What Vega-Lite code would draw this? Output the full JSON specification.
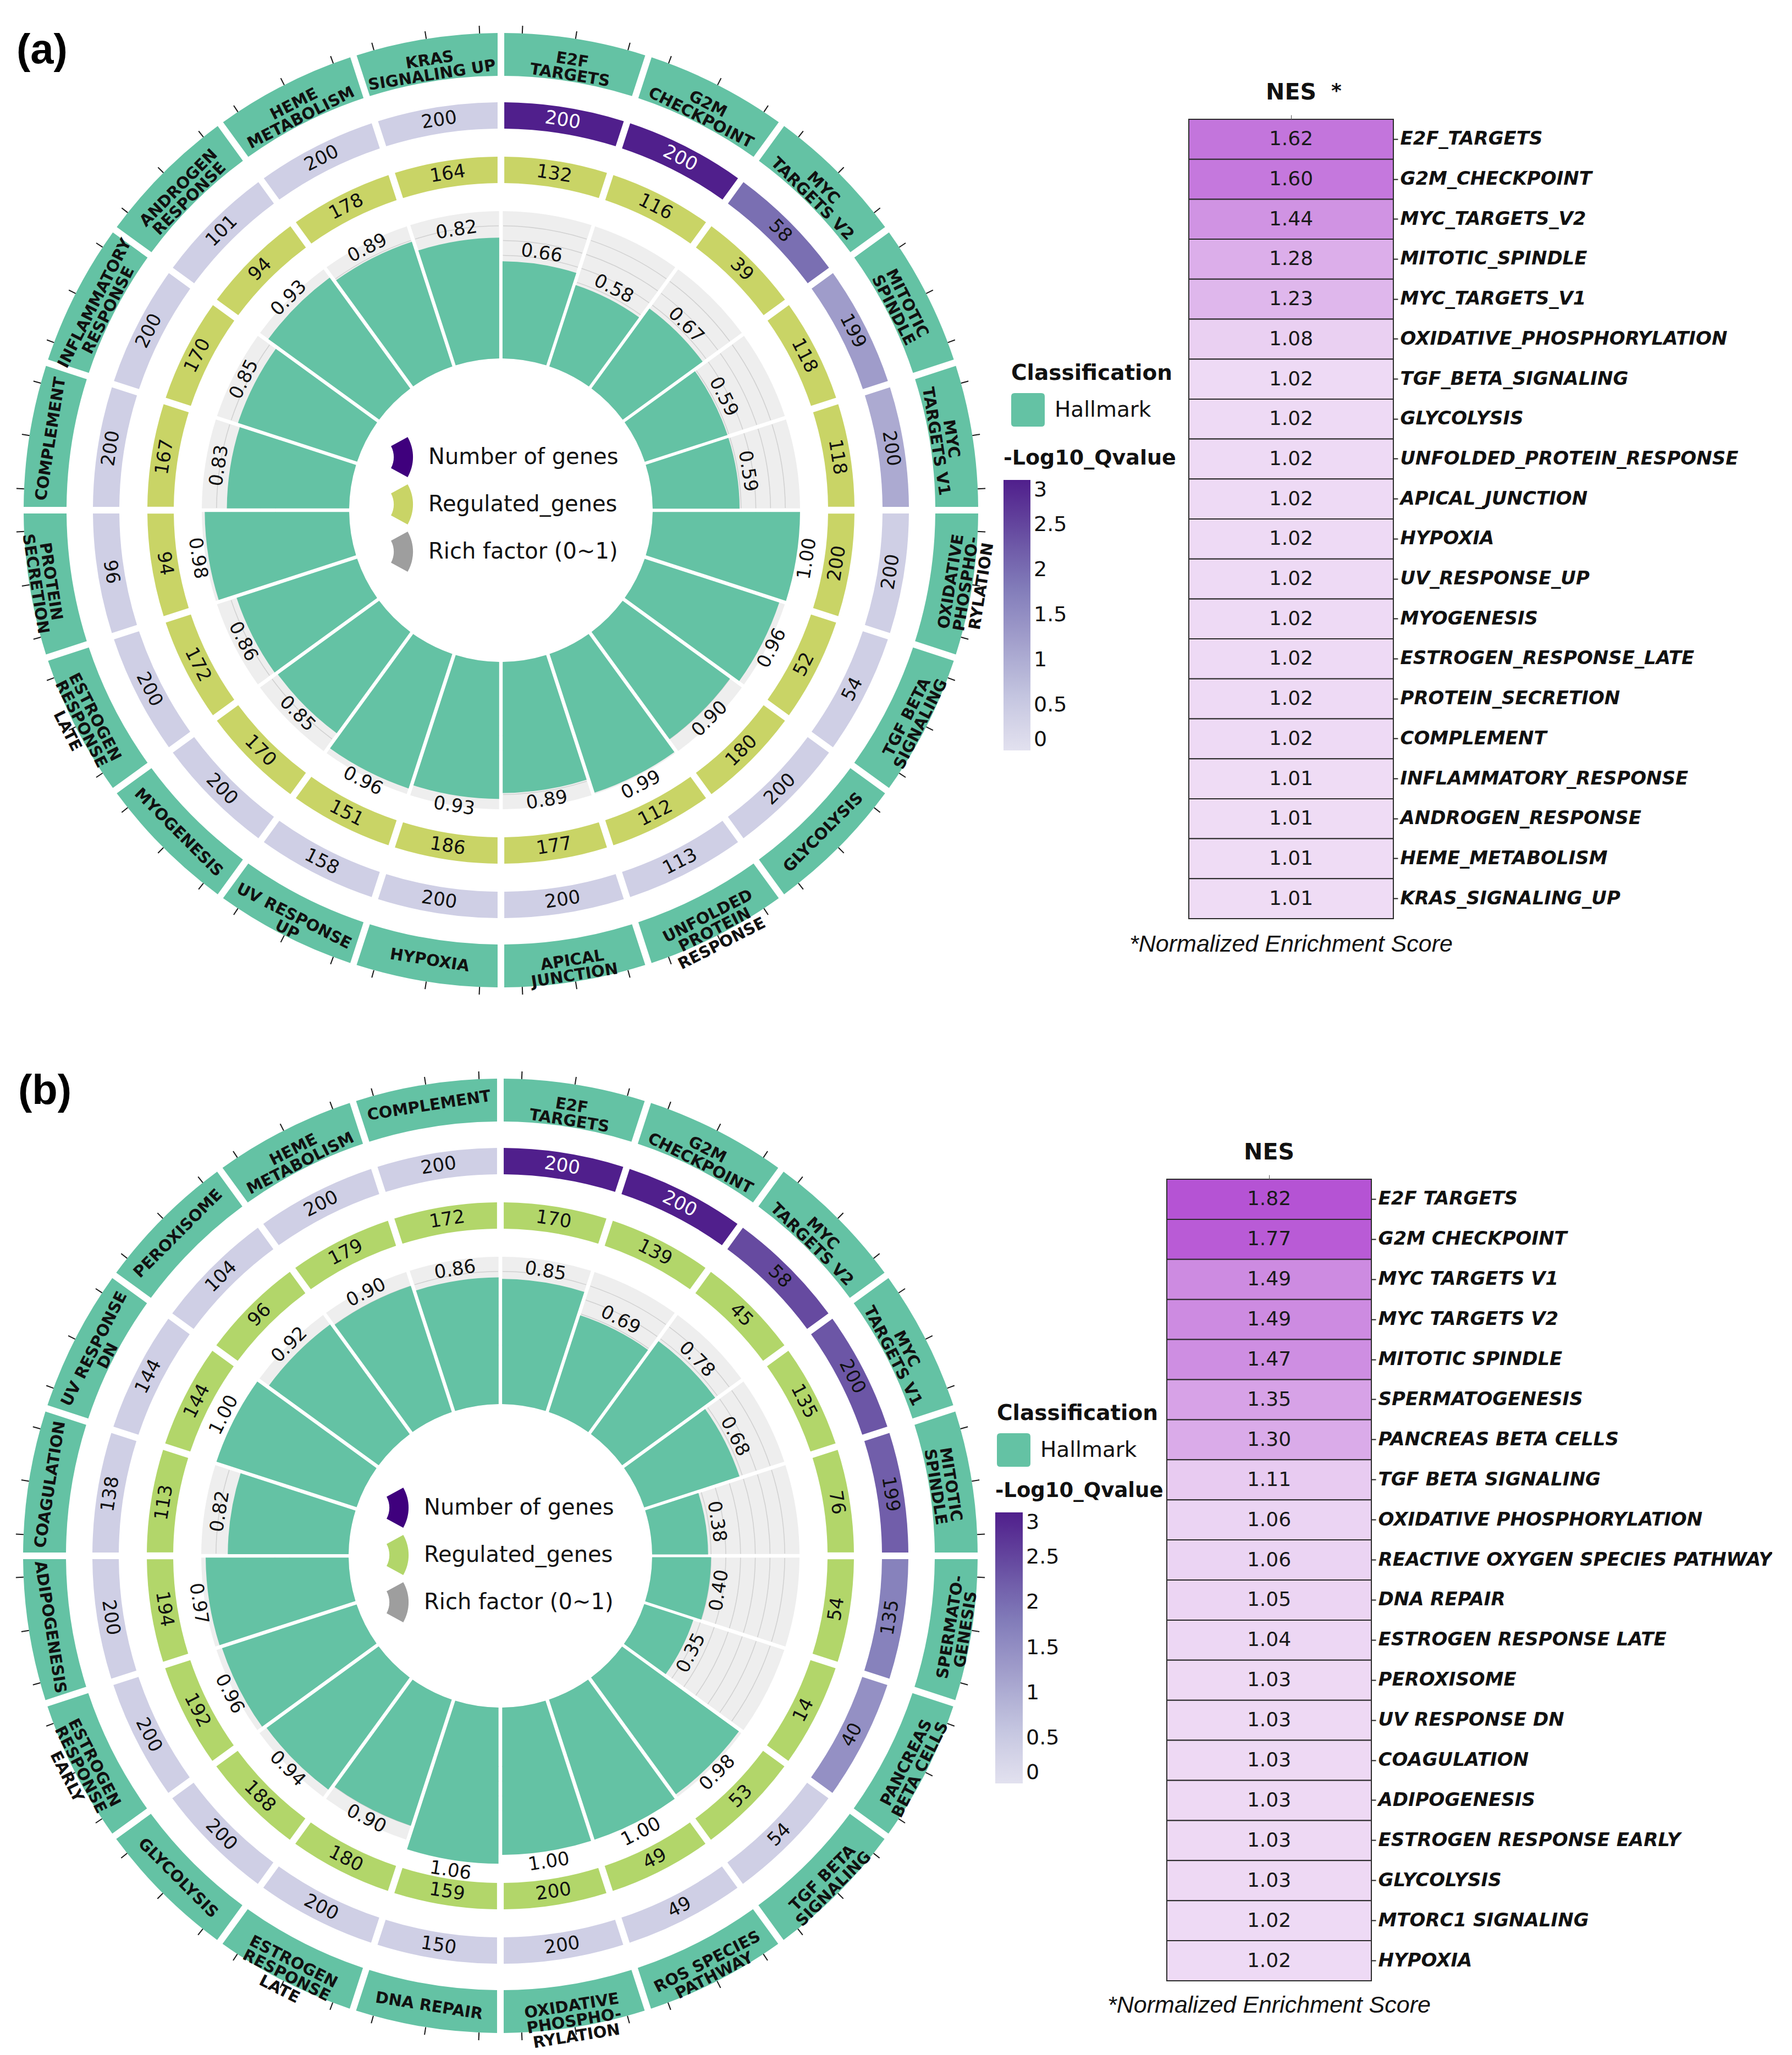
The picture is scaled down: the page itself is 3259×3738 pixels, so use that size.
{
 "$schema": "https://vega.github.io/schema/vega-lite/v6.json",
 "padding": 0,
 "background": "white",
 "config": {"view": {"stroke": null}, "font": "DejaVu Sans"},
 "spacing": 66,
 "vconcat": [
  {
   "bounds": "flush",
   "spacing": 340,
   "hconcat": [
    {
     "width": 1822, "height": 1856,
     "title": {"text": "(a)", "anchor": "start", "frame": "group", "orient": "bottom", "offset": -1801, "baseline": "top", "dx": 30, "font": "Liberation Sans", "fontSize": 76, "fontWeight": "bold", "color": "#000"},
     "data": {"values": [
      {"i":0,"name":"E2F\nTARGETS","genes":200,"reg":132,"q":3,"rf":0.66},
      {"i":1,"name":"G2M\nCHECKPOINT","genes":200,"reg":116,"q":3,"rf":0.58},
      {"i":2,"name":"MYC\nTARGETS V2","genes":58,"reg":39,"q":1.98,"rf":0.67},
      {"i":3,"name":"MITOTIC\nSPINDLE","genes":199,"reg":118,"q":1.27,"rf":0.59},
      {"i":4,"name":"MYC\nTARGETS V1","genes":200,"reg":118,"q":1.05,"rf":0.59},
      {"i":5,"name":"OXIDATIVE\nPHOSPHO-\nRYLATION","genes":200,"reg":200,"q":0.4,"rf":1.00},
      {"i":6,"name":"TGF BETA\nSIGNALING","genes":54,"reg":52,"q":0.4,"rf":0.96},
      {"i":7,"name":"GLYCOLYSIS","genes":200,"reg":180,"q":0.4,"rf":0.90},
      {"i":8,"name":"UNFOLDED\nPROTEIN\nRESPONSE","genes":113,"reg":112,"q":0.4,"rf":0.99},
      {"i":9,"name":"APICAL\nJUNCTION","genes":200,"reg":177,"q":0.4,"rf":0.89},
      {"i":10,"name":"HYPOXIA","genes":200,"reg":186,"q":0.4,"rf":0.93},
      {"i":11,"name":"UV RESPONSE\nUP","genes":158,"reg":151,"q":0.4,"rf":0.96},
      {"i":12,"name":"MYOGENESIS","genes":200,"reg":170,"q":0.4,"rf":0.85},
      {"i":13,"name":"ESTROGEN\nRESPONSE\nLATE","genes":200,"reg":172,"q":0.4,"rf":0.86},
      {"i":14,"name":"PROTEIN\nSECRETION","genes":96,"reg":94,"q":0.4,"rf":0.98},
      {"i":15,"name":"COMPLEMENT","genes":200,"reg":167,"q":0.4,"rf":0.83},
      {"i":16,"name":"INFLAMMATORY\nRESPONSE","genes":200,"reg":170,"q":0.4,"rf":0.85},
      {"i":17,"name":"ANDROGEN\nRESPONSE","genes":101,"reg":94,"q":0.4,"rf":0.93},
      {"i":18,"name":"HEME\nMETABOLISM","genes":200,"reg":178,"q":0.4,"rf":0.89},
      {"i":19,"name":"KRAS\nSIGNALING UP","genes":200,"reg":164,"q":0.4,"rf":0.82}
     ]},
     "resolve": {"scale": {"fill": "independent"}, "legend": {"fill": "independent"}},
     "layer": [
      {"mark": {"type": "arc", "radius": 868, "radius2": 790, "padAngle": 0.0103, "theta2Offset": 0.31416},
       "encoding": {
        "theta": {"field": "i", "type": "quantitative", "scale": {"domain": [0, 20]}},
        "theta2": {"field": "i"},
        "fill": {"datum": "Hallmark", "type": "nominal", "scale": {"domain": ["Hallmark"], "range": ["#64c2a4"]},
         "legend": {"title": "Classification", "orient": "none", "legendX": 1839, "legendY": 660, "padding": 0, "titleFont": "DejaVu Sans", "titleFontSize": 39, "titleFontWeight": "bold", "titleColor": "#111", "titlePadding": 16, "titleLimit": 1000, "labelFont": "DejaVu Sans", "labelFontSize": 39, "labelColor": "#111", "labelLimit": 1000, "labelOffset": 18, "symbolType": "M-0.8,-1L0.8,-1Q1,-1 1,-0.8L1,0.8Q1,1 0.8,1L-0.8,1Q-1,1 -1,0.8L-1,-0.8Q-1,-1 -0.8,-1Z", "symbolSize": 3721, "symbolStrokeWidth": 0, "symbolOpacity": 1}}
       }},
      {"mark": {"type": "arc", "radius": 882, "radius2": 868, "fill": "#1a1a1a", "thetaOffset": 0.0436, "theta2Offset": 0.0459},
       "encoding": {"theta": {"field": "i", "type": "quantitative", "scale": {"domain": [0, 20]}}, "theta2": {"field": "i"}}},
      {"mark": {"type": "arc", "radius": 882, "radius2": 868, "fill": "#1a1a1a", "thetaOffset": 0.1559, "theta2Offset": 0.1582},
       "encoding": {"theta": {"field": "i", "type": "quantitative", "scale": {"domain": [0, 20]}}, "theta2": {"field": "i"}}},
      {"mark": {"type": "arc", "radius": 882, "radius2": 868, "fill": "#1a1a1a", "thetaOffset": 0.2683, "theta2Offset": 0.2706},
       "encoding": {"theta": {"field": "i", "type": "quantitative", "scale": {"domain": [0, 20]}}, "theta2": {"field": "i"}}},
      {"mark": {"type": "arc", "radius": 742, "radius2": 694, "padAngle": 0.012, "theta2Offset": 0.31416},
       "encoding": {
        "theta": {"field": "i", "type": "quantitative", "scale": {"domain": [0, 20]}},
        "theta2": {"field": "i"},
        "fill": {"field": "q", "type": "quantitative", "scale": {"scheme": "purples", "domain": [0, 3]},
         "legend": {"title": "-Log10_Qvalue", "orient": "none", "legendX": 1825, "legendY": 815, "direction": "vertical", "padding": 0, "gradientLength": 492, "gradientThickness": 49, "gradientStrokeWidth": 0, "values": [0, 0.5, 1, 1.5, 2, 2.5, 3], "format": "~g", "labelOverlap": false, "labelFont": "DejaVu Sans", "labelFontSize": 38, "labelColor": "#111", "labelOffset": 6, "titleFont": "DejaVu Sans", "titleFontSize": 38, "titleFontWeight": "bold", "titleColor": "#111", "titlePadding": 20, "titleLimit": 1000}}
       }},
      {"mark": {"type": "arc", "radius": 643, "radius2": 595, "padAngle": 0.014, "theta2Offset": 0.31416},
       "encoding": {
        "theta": {"field": "i", "type": "quantitative", "scale": {"domain": [0, 20]}},
        "theta2": {"field": "i"},
        "fill": {"datum": "Regulated_genes", "type": "nominal", "scale": {"domain": ["Number of genes", "Regulated_genes", "Rich factor (0~1)"], "range": ["#3f007d", "#c9d466", "#9e9e9e"]},
         "legend": {"title": null, "orient": "none", "legendX": 695, "legendY": 795, "padding": 0, "symbolType": "M0.27,-1A2,2 0 0 1 0.27,1L-0.56,0.55A1.15,1.15 0 0 0 -0.56,-0.55Z", "symbolSize": 5329, "symbolStrokeWidth": 0, "symbolOpacity": 1, "labelFont": "DejaVu Sans", "labelFontSize": 40, "labelColor": "#111", "labelLimit": 1000, "labelOffset": 11, "rowPadding": 13}}
       }},
      {"mark": {"type": "arc", "radius2": 276, "fill": "#eeeeee", "padAngle": 0.011, "theta2Offset": 0.31416},
       "encoding": {
        "theta": {"field": "i", "type": "quantitative", "scale": {"domain": [0, 20]}},
        "theta2": {"field": "i"},
        "radius": {"datum": 1, "type": "quantitative", "scale": {"type": "linear", "domain": [0, 1], "range": [276, 544]}}}},
      {"mark": {"type": "arc", "filled": false, "stroke": "#d0d0d0", "strokeWidth": 1.5, "padAngle": 0.011, "theta2Offset": 0.31416},
       "encoding": {
        "theta": {"field": "i", "type": "quantitative", "scale": {"domain": [0, 20]}},
        "theta2": {"field": "i"},
        "radius": {"datum": 0.5, "type": "quantitative", "scale": {"type": "linear", "domain": [0, 1], "range": [276, 544]}},
        "radius2": {"datum": 0.5}}},
      {"mark": {"type": "arc", "filled": false, "stroke": "#d0d0d0", "strokeWidth": 1.5, "padAngle": 0.011, "theta2Offset": 0.31416},
       "encoding": {
        "theta": {"field": "i", "type": "quantitative", "scale": {"domain": [0, 20]}},
        "theta2": {"field": "i"},
        "radius": {"datum": 0.6, "type": "quantitative", "scale": {"type": "linear", "domain": [0, 1], "range": [276, 544]}},
        "radius2": {"datum": 0.6}}},
      {"mark": {"type": "arc", "filled": false, "stroke": "#d0d0d0", "strokeWidth": 1.5, "padAngle": 0.011, "theta2Offset": 0.31416},
       "encoding": {
        "theta": {"field": "i", "type": "quantitative", "scale": {"domain": [0, 20]}},
        "theta2": {"field": "i"},
        "radius": {"datum": 0.7, "type": "quantitative", "scale": {"type": "linear", "domain": [0, 1], "range": [276, 544]}},
        "radius2": {"datum": 0.7}}},
      {"mark": {"type": "arc", "filled": false, "stroke": "#d0d0d0", "strokeWidth": 1.5, "padAngle": 0.011, "theta2Offset": 0.31416},
       "encoding": {
        "theta": {"field": "i", "type": "quantitative", "scale": {"domain": [0, 20]}},
        "theta2": {"field": "i"},
        "radius": {"datum": 0.8, "type": "quantitative", "scale": {"type": "linear", "domain": [0, 1], "range": [276, 544]}},
        "radius2": {"datum": 0.8}}},
      {"mark": {"type": "arc", "filled": false, "stroke": "#d0d0d0", "strokeWidth": 1.5, "padAngle": 0.011, "theta2Offset": 0.31416},
       "encoding": {
        "theta": {"field": "i", "type": "quantitative", "scale": {"domain": [0, 20]}},
        "theta2": {"field": "i"},
        "radius": {"datum": 0.9, "type": "quantitative", "scale": {"type": "linear", "domain": [0, 1], "range": [276, 544]}},
        "radius2": {"datum": 0.9}}},
      {"mark": {"type": "arc", "radius2": 276, "fill": "#64c2a4", "padAngle": 0.011, "theta2Offset": 0.31416},
       "encoding": {
        "theta": {"field": "i", "type": "quantitative", "scale": {"domain": [0, 20]}},
        "theta2": {"field": "i"},
        "radius": {"field": "rf", "type": "quantitative", "scale": {"type": "linear", "domain": [0, 1], "range": [276, 544]}}}},
      {"mark": {"type": "text", "radiusOffset": 20, "thetaOffset": 0.15708, "font": "DejaVu Sans", "fontSize": 34, "fill": "#111", "align": "center", "baseline": "middle"},
       "encoding": {
        "theta": {"field": "i", "type": "quantitative", "scale": {"domain": [0, 20]}},
        "radius": {"field": "rf", "type": "quantitative", "scale": {"type": "linear", "domain": [0, 1], "range": [276, 544]}},
        "text": {"field": "rf", "type": "quantitative", "format": ".2f"},
        "angle": {"field": "i", "type": "quantitative", "scale": {"type": "linear", "domain": [0, 4, 5, 14, 15, 19], "range": [9, 81, -81, 81, -81, -9]}, "legend": null}}},
      {"mark": {"type": "text", "radius": 718, "thetaOffset": 0.15708, "font": "DejaVu Sans", "fontSize": 34, "align": "center", "baseline": "middle"},
       "encoding": {
        "theta": {"field": "i", "type": "quantitative", "scale": {"domain": [0, 20]}},
        "text": {"field": "genes", "type": "quantitative"},
        "color": {"condition": {"test": "datum.q >= 2.8", "value": "#ffffff"}, "value": "#111111"},
        "angle": {"field": "i", "type": "quantitative", "scale": {"type": "linear", "domain": [0, 4, 5, 14, 15, 19], "range": [9, 81, -81, 81, -81, -9]}, "legend": null}}},
      {"mark": {"type": "text", "radius": 619, "thetaOffset": 0.15708, "font": "DejaVu Sans", "fontSize": 34, "fill": "#111", "align": "center", "baseline": "middle"},
       "encoding": {
        "theta": {"field": "i", "type": "quantitative", "scale": {"domain": [0, 20]}},
        "text": {"field": "reg", "type": "quantitative"},
        "angle": {"field": "i", "type": "quantitative", "scale": {"type": "linear", "domain": [0, 4, 5, 14, 15, 19], "range": [9, 81, -81, 81, -81, -9]}, "legend": null}}},
      {"mark": {"type": "text", "radius": 829, "thetaOffset": 0.15708, "font": "DejaVu Sans", "fontSize": 29, "fontWeight": "bold", "fill": "#111", "align": "center", "baseline": "middle", "lineBreak": "\n", "lineHeight": 28},
       "encoding": {
        "theta": {"field": "i", "type": "quantitative", "scale": {"domain": [0, 20]}},
        "text": {"field": "name", "type": "nominal"},
        "angle": {"field": "i", "type": "quantitative", "scale": {"type": "linear", "domain": [0, 4, 5, 14, 15, 19], "range": [9, 81, -81, 81, -81, -9]}, "legend": null}}}
     ]
    },
    {
     "width": 372, "height": 1856,
     "title": {"text": "*Normalized Enrichment Score", "orient": "bottom", "anchor": "middle", "offset": -159, "font": "Liberation Sans", "fontSize": 43, "fontStyle": "italic", "fontWeight": "normal", "color": "#111"},
     "data": {"values": [
      {"term": "E2F_TARGETS", "col": "NES", "nes": 1.62},
      {"term": "G2M_CHECKPOINT", "col": "NES", "nes": 1.60},
      {"term": "MYC_TARGETS_V2", "col": "NES", "nes": 1.44},
      {"term": "MITOTIC_SPINDLE", "col": "NES", "nes": 1.28},
      {"term": "MYC_TARGETS_V1", "col": "NES", "nes": 1.23},
      {"term": "OXIDATIVE_PHOSPHORYLATION", "col": "NES", "nes": 1.08},
      {"term": "TGF_BETA_SIGNALING", "col": "NES", "nes": 1.02},
      {"term": "GLYCOLYSIS", "col": "NES", "nes": 1.02},
      {"term": "UNFOLDED_PROTEIN_RESPONSE", "col": "NES", "nes": 1.02},
      {"term": "APICAL_JUNCTION", "col": "NES", "nes": 1.02},
      {"term": "HYPOXIA", "col": "NES", "nes": 1.02},
      {"term": "UV_RESPONSE_UP", "col": "NES", "nes": 1.02},
      {"term": "MYOGENESIS", "col": "NES", "nes": 1.02},
      {"term": "ESTROGEN_RESPONSE_LATE", "col": "NES", "nes": 1.02},
      {"term": "PROTEIN_SECRETION", "col": "NES", "nes": 1.02},
      {"term": "COMPLEMENT", "col": "NES", "nes": 1.02},
      {"term": "INFLAMMATORY_RESPONSE", "col": "NES", "nes": 1.01},
      {"term": "ANDROGEN_RESPONSE", "col": "NES", "nes": 1.01},
      {"term": "HEME_METABOLISM", "col": "NES", "nes": 1.01},
      {"term": "KRAS_SIGNALING_UP", "col": "NES", "nes": 1.01}
     ]},
     "encoding": {
      "y": {"field": "term", "type": "nominal", "sort": null, "scale": {"range": [217, 1671], "paddingInner": 0, "paddingOuter": 0},
       "axis": {"orient": "right", "title": null, "domain": false, "ticks": true, "tickSize": 8, "tickColor": "#222", "tickWidth": 2, "labelFont": "DejaVu Sans", "labelFontSize": 34, "labelFontWeight": "bold", "labelFontStyle": "italic", "labelColor": "#111", "labelPadding": 4, "labelLimit": 1200}},
      "x": {"field": "col", "type": "nominal", "scale": {"paddingInner": 0, "paddingOuter": 0},
       "axis": {"orient": "top", "offset": -217, "title": "*", "titleX": 268, "titleY": -52, "titleFont": "DejaVu Sans", "titleFontSize": 36, "titleFontWeight": "bold", "titleAngle": 0, "titleBaseline": "middle", "titleAlign": "center", "titleColor": "#111", "domain": false, "tickSize": 8, "tickColor": "#555", "labelFont": "DejaVu Sans", "labelFontSize": 41, "labelFontWeight": "bold", "labelAngle": 0, "labelColor": "#111", "labelPadding": 20}}
     },
     "layer": [
      {"mark": {"type": "rect", "stroke": "#2b2b2b", "strokeWidth": 2},
       "encoding": {"fill": {"field": "nes", "type": "quantitative", "scale": {"domain": [1.01, 1.62], "range": ["#efdcf5", "#b553d4"], "interpolate": "rgb"}, "legend": null}}},
      {"mark": {"type": "text", "font": "DejaVu Sans", "fontSize": 36, "fill": "#1a1a1a"},
       "encoding": {"text": {"field": "nes", "type": "quantitative", "format": ".2f"}}}
     ]
    }
   ]
  },
  {
   "bounds": "flush",
   "spacing": 302,
   "hconcat": [
    {
     "width": 1820, "height": 1816,
     "title": {"text": "(b)", "anchor": "start", "frame": "group", "orient": "bottom", "offset": -1790, "baseline": "top", "dx": 33, "font": "Liberation Sans", "fontSize": 76, "fontWeight": "bold", "color": "#000"},
     "data": {"values": [
      {"i":0,"name":"E2F\nTARGETS","genes":200,"reg":170,"q":3,"rf":0.85},
      {"i":1,"name":"G2M\nCHECKPOINT","genes":200,"reg":139,"q":3,"rf":0.69},
      {"i":2,"name":"MYC\nTARGETS V2","genes":58,"reg":45,"q":2.45,"rf":0.78},
      {"i":3,"name":"MYC\nTARGETS V1","genes":200,"reg":135,"q":2.3,"rf":0.68},
      {"i":4,"name":"MITOTIC\nSPINDLE","genes":199,"reg":76,"q":2.2,"rf":0.38},
      {"i":5,"name":"SPERMATO-\nGENESIS","genes":135,"reg":54,"q":1.7,"rf":0.40},
      {"i":6,"name":"PANCREAS\nBETA CELLS","genes":40,"reg":14,"q":1.47,"rf":0.35},
      {"i":7,"name":"TGF BETA\nSIGNALING","genes":54,"reg":53,"q":0.4,"rf":0.98},
      {"i":8,"name":"ROS SPECIES\nPATHWAY","genes":49,"reg":49,"q":0.4,"rf":1.00},
      {"i":9,"name":"OXIDATIVE\nPHOSPHO-\nRYLATION","genes":200,"reg":200,"q":0.4,"rf":1.00},
      {"i":10,"name":"DNA REPAIR","genes":150,"reg":159,"q":0.4,"rf":1.06},
      {"i":11,"name":"ESTROGEN\nRESPONSE\nLATE","genes":200,"reg":180,"q":0.4,"rf":0.90},
      {"i":12,"name":"GLYCOLYSIS","genes":200,"reg":188,"q":0.4,"rf":0.94},
      {"i":13,"name":"ESTROGEN\nRESPONSE\nEARLY","genes":200,"reg":192,"q":0.4,"rf":0.96},
      {"i":14,"name":"ADIPOGENESIS","genes":200,"reg":194,"q":0.4,"rf":0.97},
      {"i":15,"name":"COAGULATION","genes":138,"reg":113,"q":0.4,"rf":0.82},
      {"i":16,"name":"UV RESPONSE\nDN","genes":144,"reg":144,"q":0.4,"rf":1.00},
      {"i":17,"name":"PEROXISOME","genes":104,"reg":96,"q":0.4,"rf":0.92},
      {"i":18,"name":"HEME\nMETABOLISM","genes":200,"reg":179,"q":0.4,"rf":0.90},
      {"i":19,"name":"COMPLEMENT","genes":200,"reg":172,"q":0.4,"rf":0.86}
     ]},
     "resolve": {"scale": {"fill": "independent"}, "legend": {"fill": "independent"}},
     "layer": [
      {"mark": {"type": "arc", "radius": 868, "radius2": 790, "padAngle": 0.0103, "theta2Offset": 0.31416},
       "encoding": {
        "theta": {"field": "i", "type": "quantitative", "scale": {"domain": [0, 20]}},
        "theta2": {"field": "i"},
        "fill": {"datum": "Hallmark", "type": "nominal", "scale": {"domain": ["Hallmark"], "range": ["#64c2a4"]},
         "legend": {"title": "Classification", "orient": "none", "legendX": 1813, "legendY": 630, "padding": 0, "titleFont": "DejaVu Sans", "titleFontSize": 39, "titleFontWeight": "bold", "titleColor": "#111", "titlePadding": 16, "titleLimit": 1000, "labelFont": "DejaVu Sans", "labelFontSize": 39, "labelColor": "#111", "labelLimit": 1000, "labelOffset": 18, "symbolType": "M-0.8,-1L0.8,-1Q1,-1 1,-0.8L1,0.8Q1,1 0.8,1L-0.8,1Q-1,1 -1,0.8L-1,-0.8Q-1,-1 -0.8,-1Z", "symbolSize": 3721, "symbolStrokeWidth": 0, "symbolOpacity": 1}}
       }},
      {"mark": {"type": "arc", "radius": 882, "radius2": 868, "fill": "#1a1a1a", "thetaOffset": 0.0436, "theta2Offset": 0.0459},
       "encoding": {"theta": {"field": "i", "type": "quantitative", "scale": {"domain": [0, 20]}}, "theta2": {"field": "i"}}},
      {"mark": {"type": "arc", "radius": 882, "radius2": 868, "fill": "#1a1a1a", "thetaOffset": 0.1559, "theta2Offset": 0.1582},
       "encoding": {"theta": {"field": "i", "type": "quantitative", "scale": {"domain": [0, 20]}}, "theta2": {"field": "i"}}},
      {"mark": {"type": "arc", "radius": 882, "radius2": 868, "fill": "#1a1a1a", "thetaOffset": 0.2683, "theta2Offset": 0.2706},
       "encoding": {"theta": {"field": "i", "type": "quantitative", "scale": {"domain": [0, 20]}}, "theta2": {"field": "i"}}},
      {"mark": {"type": "arc", "radius": 742, "radius2": 694, "padAngle": 0.012, "theta2Offset": 0.31416},
       "encoding": {
        "theta": {"field": "i", "type": "quantitative", "scale": {"domain": [0, 20]}},
        "theta2": {"field": "i"},
        "fill": {"field": "q", "type": "quantitative", "scale": {"scheme": "purples", "domain": [0, 3]},
         "legend": {"title": "-Log10_Qvalue", "orient": "none", "legendX": 1810, "legendY": 772, "direction": "vertical", "padding": 0, "gradientLength": 493, "gradientThickness": 50, "gradientStrokeWidth": 0, "values": [0, 0.5, 1, 1.5, 2, 2.5, 3], "format": "~g", "labelOverlap": false, "labelFont": "DejaVu Sans", "labelFontSize": 38, "labelColor": "#111", "labelOffset": 6, "titleFont": "DejaVu Sans", "titleFontSize": 37, "titleFontWeight": "bold", "titleColor": "#111", "titlePadding": 20, "titleLimit": 1000}}
       }},
      {"mark": {"type": "arc", "radius": 643, "radius2": 595, "padAngle": 0.014, "theta2Offset": 0.31416},
       "encoding": {
        "theta": {"field": "i", "type": "quantitative", "scale": {"domain": [0, 20]}},
        "theta2": {"field": "i"},
        "fill": {"datum": "Regulated_genes", "type": "nominal", "scale": {"domain": ["Number of genes", "Regulated_genes", "Rich factor (0~1)"], "range": ["#3f007d", "#b2d66a", "#9e9e9e"]},
         "legend": {"title": null, "orient": "none", "legendX": 687, "legendY": 784, "padding": 0, "symbolType": "M0.27,-1A2,2 0 0 1 0.27,1L-0.56,0.55A1.15,1.15 0 0 0 -0.56,-0.55Z", "symbolSize": 5329, "symbolStrokeWidth": 0, "symbolOpacity": 1, "labelFont": "DejaVu Sans", "labelFontSize": 40, "labelColor": "#111", "labelLimit": 1000, "labelOffset": 11, "rowPadding": 13}}
       }},
      {"mark": {"type": "arc", "radius2": 276, "fill": "#eeeeee", "padAngle": 0.011, "theta2Offset": 0.31416},
       "encoding": {
        "theta": {"field": "i", "type": "quantitative", "scale": {"domain": [0, 20]}},
        "theta2": {"field": "i"},
        "radius": {"datum": 1, "type": "quantitative", "scale": {"type": "linear", "domain": [0, 1], "range": [276, 544]}}}},
      {"mark": {"type": "arc", "filled": false, "stroke": "#d0d0d0", "strokeWidth": 1.5, "padAngle": 0.011, "theta2Offset": 0.31416},
       "encoding": {
        "theta": {"field": "i", "type": "quantitative", "scale": {"domain": [0, 20]}},
        "theta2": {"field": "i"},
        "radius": {"datum": 0.4, "type": "quantitative", "scale": {"type": "linear", "domain": [0, 1], "range": [276, 544]}},
        "radius2": {"datum": 0.4}}},
      {"mark": {"type": "arc", "filled": false, "stroke": "#d0d0d0", "strokeWidth": 1.5, "padAngle": 0.011, "theta2Offset": 0.31416},
       "encoding": {
        "theta": {"field": "i", "type": "quantitative", "scale": {"domain": [0, 20]}},
        "theta2": {"field": "i"},
        "radius": {"datum": 0.5, "type": "quantitative", "scale": {"type": "linear", "domain": [0, 1], "range": [276, 544]}},
        "radius2": {"datum": 0.5}}},
      {"mark": {"type": "arc", "filled": false, "stroke": "#d0d0d0", "strokeWidth": 1.5, "padAngle": 0.011, "theta2Offset": 0.31416},
       "encoding": {
        "theta": {"field": "i", "type": "quantitative", "scale": {"domain": [0, 20]}},
        "theta2": {"field": "i"},
        "radius": {"datum": 0.6, "type": "quantitative", "scale": {"type": "linear", "domain": [0, 1], "range": [276, 544]}},
        "radius2": {"datum": 0.6}}},
      {"mark": {"type": "arc", "filled": false, "stroke": "#d0d0d0", "strokeWidth": 1.5, "padAngle": 0.011, "theta2Offset": 0.31416},
       "encoding": {
        "theta": {"field": "i", "type": "quantitative", "scale": {"domain": [0, 20]}},
        "theta2": {"field": "i"},
        "radius": {"datum": 0.7, "type": "quantitative", "scale": {"type": "linear", "domain": [0, 1], "range": [276, 544]}},
        "radius2": {"datum": 0.7}}},
      {"mark": {"type": "arc", "filled": false, "stroke": "#d0d0d0", "strokeWidth": 1.5, "padAngle": 0.011, "theta2Offset": 0.31416},
       "encoding": {
        "theta": {"field": "i", "type": "quantitative", "scale": {"domain": [0, 20]}},
        "theta2": {"field": "i"},
        "radius": {"datum": 0.8, "type": "quantitative", "scale": {"type": "linear", "domain": [0, 1], "range": [276, 544]}},
        "radius2": {"datum": 0.8}}},
      {"mark": {"type": "arc", "filled": false, "stroke": "#d0d0d0", "strokeWidth": 1.5, "padAngle": 0.011, "theta2Offset": 0.31416},
       "encoding": {
        "theta": {"field": "i", "type": "quantitative", "scale": {"domain": [0, 20]}},
        "theta2": {"field": "i"},
        "radius": {"datum": 0.9, "type": "quantitative", "scale": {"type": "linear", "domain": [0, 1], "range": [276, 544]}},
        "radius2": {"datum": 0.9}}},
      {"mark": {"type": "arc", "radius2": 276, "fill": "#64c2a4", "padAngle": 0.011, "theta2Offset": 0.31416},
       "encoding": {
        "theta": {"field": "i", "type": "quantitative", "scale": {"domain": [0, 20]}},
        "theta2": {"field": "i"},
        "radius": {"field": "rf", "type": "quantitative", "scale": {"type": "linear", "domain": [0, 1], "range": [276, 544]}}}},
      {"mark": {"type": "text", "radiusOffset": 20, "thetaOffset": 0.15708, "font": "DejaVu Sans", "fontSize": 34, "fill": "#111", "align": "center", "baseline": "middle"},
       "encoding": {
        "theta": {"field": "i", "type": "quantitative", "scale": {"domain": [0, 20]}},
        "radius": {"field": "rf", "type": "quantitative", "scale": {"type": "linear", "domain": [0, 1], "range": [276, 544]}},
        "text": {"field": "rf", "type": "quantitative", "format": ".2f"},
        "angle": {"field": "i", "type": "quantitative", "scale": {"type": "linear", "domain": [0, 4, 5, 14, 15, 19], "range": [9, 81, -81, 81, -81, -9]}, "legend": null}}},
      {"mark": {"type": "text", "radius": 718, "thetaOffset": 0.15708, "font": "DejaVu Sans", "fontSize": 34, "align": "center", "baseline": "middle"},
       "encoding": {
        "theta": {"field": "i", "type": "quantitative", "scale": {"domain": [0, 20]}},
        "text": {"field": "genes", "type": "quantitative"},
        "color": {"condition": {"test": "datum.q >= 2.8", "value": "#ffffff"}, "value": "#111111"},
        "angle": {"field": "i", "type": "quantitative", "scale": {"type": "linear", "domain": [0, 4, 5, 14, 15, 19], "range": [9, 81, -81, 81, -81, -9]}, "legend": null}}},
      {"mark": {"type": "text", "radius": 619, "thetaOffset": 0.15708, "font": "DejaVu Sans", "fontSize": 34, "fill": "#111", "align": "center", "baseline": "middle"},
       "encoding": {
        "theta": {"field": "i", "type": "quantitative", "scale": {"domain": [0, 20]}},
        "text": {"field": "reg", "type": "quantitative"},
        "angle": {"field": "i", "type": "quantitative", "scale": {"type": "linear", "domain": [0, 4, 5, 14, 15, 19], "range": [9, 81, -81, 81, -81, -9]}, "legend": null}}},
      {"mark": {"type": "text", "radius": 829, "thetaOffset": 0.15708, "font": "DejaVu Sans", "fontSize": 29, "fontWeight": "bold", "fill": "#111", "align": "center", "baseline": "middle", "lineBreak": "\n", "lineHeight": 28},
       "encoding": {
        "theta": {"field": "i", "type": "quantitative", "scale": {"domain": [0, 20]}},
        "text": {"field": "name", "type": "nominal"},
        "angle": {"field": "i", "type": "quantitative", "scale": {"type": "linear", "domain": [0, 4, 5, 14, 15, 19], "range": [9, 81, -81, 81, -81, -9]}, "legend": null}}}
     ]
    },
    {
     "width": 372, "height": 1816,
     "title": {"text": "*Normalized Enrichment Score", "orient": "bottom", "anchor": "middle", "offset": -111, "font": "Liberation Sans", "fontSize": 43, "fontStyle": "italic", "fontWeight": "normal", "color": "#111"},
     "data": {"values": [
      {"term": "E2F TARGETS", "col": "NES", "nes": 1.82},
      {"term": "G2M CHECKPOINT", "col": "NES", "nes": 1.77},
      {"term": "MYC TARGETS V1", "col": "NES", "nes": 1.49},
      {"term": "MYC TARGETS V2", "col": "NES", "nes": 1.49},
      {"term": "MITOTIC SPINDLE", "col": "NES", "nes": 1.47},
      {"term": "SPERMATOGENESIS", "col": "NES", "nes": 1.35},
      {"term": "PANCREAS BETA CELLS", "col": "NES", "nes": 1.30},
      {"term": "TGF BETA SIGNALING", "col": "NES", "nes": 1.11},
      {"term": "OXIDATIVE PHOSPHORYLATION", "col": "NES", "nes": 1.06},
      {"term": "REACTIVE OXYGEN SPECIES PATHWAY", "col": "NES", "nes": 1.06},
      {"term": "DNA REPAIR", "col": "NES", "nes": 1.05},
      {"term": "ESTROGEN RESPONSE LATE", "col": "NES", "nes": 1.04},
      {"term": "PEROXISOME", "col": "NES", "nes": 1.03},
      {"term": "UV RESPONSE DN", "col": "NES", "nes": 1.03},
      {"term": "COAGULATION", "col": "NES", "nes": 1.03},
      {"term": "ADIPOGENESIS", "col": "NES", "nes": 1.03},
      {"term": "ESTROGEN RESPONSE EARLY", "col": "NES", "nes": 1.03},
      {"term": "GLYCOLYSIS", "col": "NES", "nes": 1.03},
      {"term": "MTORC1 SIGNALING", "col": "NES", "nes": 1.02},
      {"term": "HYPOXIA", "col": "NES", "nes": 1.02}
     ]},
     "encoding": {
      "y": {"field": "term", "type": "nominal", "sort": null, "scale": {"range": [223, 1681], "paddingInner": 0, "paddingOuter": 0},
       "axis": {"orient": "right", "title": null, "domain": false, "ticks": true, "tickSize": 8, "tickColor": "#222", "tickWidth": 2, "labelFont": "DejaVu Sans", "labelFontSize": 34, "labelFontWeight": "bold", "labelFontStyle": "italic", "labelColor": "#111", "labelPadding": 4, "labelLimit": 1200}},
      "x": {"field": "col", "type": "nominal", "scale": {"paddingInner": 0, "paddingOuter": 0},
       "axis": {"orient": "top", "offset": -223, "title": null, "domain": false, "tickSize": 8, "tickColor": "#555", "labelFont": "DejaVu Sans", "labelFontSize": 41, "labelFontWeight": "bold", "labelAngle": 0, "labelColor": "#111", "labelPadding": 20}}
     },
     "layer": [
      {"mark": {"type": "rect", "stroke": "#2b2b2b", "strokeWidth": 2},
       "encoding": {"fill": {"field": "nes", "type": "quantitative", "scale": {"domain": [1.02, 1.82], "range": ["#efdcf5", "#b553d4"], "interpolate": "rgb"}, "legend": null}}},
      {"mark": {"type": "text", "font": "DejaVu Sans", "fontSize": 36, "fill": "#1a1a1a"},
       "encoding": {"text": {"field": "nes", "type": "quantitative", "format": ".2f"}}}
     ]
    }
   ]
  }
 ]
}
